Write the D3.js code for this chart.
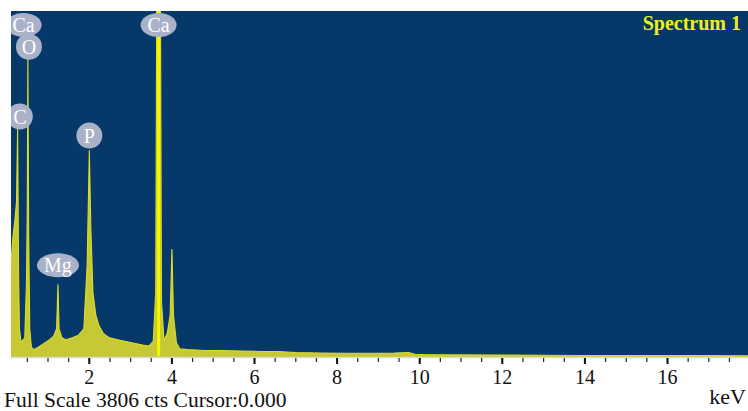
<!DOCTYPE html>
<html><head><meta charset="utf-8">
<script src="https://cdn.jsdelivr.net/npm/d3@7/dist/d3.min.js"></script>
<style>html,body{margin:0;padding:0;background:#fff;}svg{display:block;}</style>
</head><body>
<svg id="c" width="748" height="411"></svg>
<script>
// ---- data ----
const energies = [0.10,0.16,0.21,0.25,0.277,0.30,0.32,0.36,0.45,0.49,0.51,0.525,0.545,0.57,0.61,0.66,0.75,0.85,0.95,1.05,1.15,1.22,1.254,1.28,1.35,1.45,1.6,1.75,1.88,1.96,2.013,2.05,2.1,2.17,2.25,2.35,2.5,2.7,2.9,3.1,3.3,3.45,3.56,3.62,3.65,3.73,3.76,3.82,3.9,3.97,4.013,4.05,4.12,4.2,4.4,4.8,5.2,5.7,6.2,6.6,7.0,7.6,8.2,8.8,9.4,9.75,9.9,10.2,11,12,13,14,15,16,17,18];
const counts   = [900,1300,1500,1700,2520,900,300,150,200,800,1600,3290,1300,300,100,70,90,120,150,180,220,300,790,300,200,180,200,230,300,1000,2270,1400,700,450,330,250,200,180,160,140,120,110,160,700,4600,4600,600,170,250,450,1180,450,150,80,70,60,60,55,50,50,38,32,30,30,32,38,20,14,12,10,8,6,5,5,4,3];
const fullScale = 3806;
const elementSymbols = ["Ca","O","C","Mg","P","Ca"];
const elementKeV     = [0.42,0.55,0.33,1.254,2.013,3.69];
const labelCounts    = [3806,3290,2520,880,2310,3806];
const tickLabels = [2,4,6,8,10,12,14,16];
const minorTicks = d3.range(0.5, 18, 0.5);

// ---- layout ----
const svg = d3.select("#c");
const L = 11, R = 748, T = 11, B = 356;
const x = d3.scaleLinear().domain([0, 18]).range([6.2, 6.2 + 18 * 41.3]);
const y = d3.scaleLinear().domain([0, fullScale]).range([B, T]);
const serif = "'Liberation Serif','Times New Roman',serif";

svg.append("defs").append("clipPath").attr("id","plot")
  .append("rect").attr("x",L).attr("y",T).attr("width",R-L).attr("height",B-T+1);

svg.append("rect").attr("x",L).attr("y",T).attr("width",R-L).attr("height",B-T).attr("fill","#06386a");

const g = svg.append("g").attr("clip-path","url(#plot)");
const pts = energies.map((e,i)=>({e, c: counts[i]}));

const area = d3.area().x(d=>x(d.e)).y0(B+1).y1(d=>y(d.c));
g.append("path").datum(pts).attr("d",area).attr("fill","#c6c934");
const line = d3.line().x(d=>x(d.e)).y(d=>y(d.c));
g.append("path").datum(pts).attr("d",line).attr("fill","none").attr("stroke","#dcdc2a").attr("stroke-width",1.1);

// bright main Ca K-alpha line
g.append("line").attr("x1",x(3.69)).attr("x2",x(3.69)).attr("y1",y(fullScale)).attr("y2",B)
  .attr("stroke","#f6f600").attr("stroke-width",3);

// axis base
svg.append("line").attr("x1",L).attr("x2",R).attr("y1",B+1.5).attr("y2",B+1.5).attr("stroke","#d8dccc").attr("stroke-width",1.5);

// ticks
const axMinor = d3.axisBottom(x).tickValues(minorTicks).tickSize(4).tickFormat("");
const gm = svg.append("g").attr("transform",`translate(0,${B+2})`).call(axMinor);
gm.select(".domain").remove();
gm.selectAll(".tick line").attr("stroke","#222").attr("stroke-width",1.2);

const axMajor = d3.axisBottom(x).tickValues(tickLabels).tickSize(6).tickPadding(12).tickFormat(d3.format("d"));
const gM = svg.append("g").attr("transform",`translate(0,${B+2})`).call(axMajor);
gM.select(".domain").remove();
gM.selectAll(".tick line").attr("stroke","#111").attr("stroke-width",2);
gM.selectAll(".tick text").attr("font-family",serif)
  .attr("font-size",20).attr("fill","#111").attr("dy","0.71em").attr("y",12);

// element labels
const lab = svg.append("g").attr("clip-path","url(#plot)");
elementSymbols.forEach((s,i)=>{
  const cx = x(elementKeV[i]);
  const cy = Math.max(y(labelCounts[i]) - 11, 25);
  const w = s.length > 1 ? (s === "Mg" ? 21 : 18) : 13;
  const h = s.length > 1 ? 12 : 13;
  lab.append("ellipse").attr("cx",cx).attr("cy",cy).attr("rx",w).attr("ry",h).attr("fill","#a9b2c8");
  lab.append("text").attr("x",cx).attr("y",cy+7).attr("text-anchor","middle")
    .attr("font-family",serif).attr("font-size",20)
    .attr("fill","#ffffff").text(s);
});

// texts
svg.append("text").attr("x",741).attr("y",30).attr("text-anchor","end")
  .attr("font-family",serif).attr("font-size",20).attr("font-weight","bold")
  .attr("fill","#eeee22").text("Spectrum 1");
svg.append("text").attr("x",4).attr("y",407)
  .attr("font-family",serif).attr("font-size",21.5)
  .attr("fill","#111").text("Full Scale 3806 cts Cursor:0.000");
svg.append("text").attr("x",746).attr("y",404).attr("text-anchor","end")
  .attr("font-family",serif).attr("font-size",22)
  .attr("fill","#111").text("keV");
</script>
</body></html>
